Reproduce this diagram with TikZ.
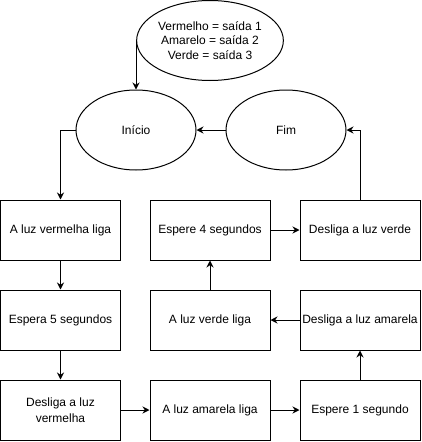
\documentclass[tikz,border=0pt]{standalone}
\usepackage{fontspec}
\setmainfont{Liberation Sans}
\usetikzlibrary{shapes.geometric,arrows.meta}

\tikzset{
  caixa/.style={draw, minimum width=120pt, minimum height=60pt, inner sep=0pt, align=center, font=\fontsize{12}{16.5}\selectfont},
  elipse/.style={draw, ellipse, minimum width=120pt, minimum height=80pt, inner sep=0pt, align=center, font=\fontsize{12}{14.5}\selectfont},
  seta/.style={-{Stealth[length=7pt,width=7pt]}}
}

\begin{document}
\begin{tikzpicture}[x=1pt,y=-1pt,line width=1pt]
\useasboundingbox (0,0) rectangle (422,442);

%legenda
\node[elipse] (legenda) at (210,40.5) {Vermelho = saída 1\\Amarelo = saída 2\\Verde = saída 3};

%inicio e fim
\node[elipse] (inicio) at (136,130) {Início};
\node[elipse] (fim) at (286,130) {Fim};

%passos
\node[caixa] (vermelhaliga) at (60.5,230) {A luz vermelha liga};
\node[caixa] (espera5) at (60.5,320) {Espera 5 segundos};
\node[caixa] (desligavermelha) at (60.5,410) {Desliga a luz\\vermelha};
\node[caixa] (amarelaliga) at (210,410) {A luz amarela liga};
\node[caixa] (espere1) at (360,410) {Espere 1 segundo};
\node[caixa] (desligaamarela) at (360,320) {Desliga a luz amarela};
\node[caixa] (verdeliga) at (210,320) {A luz verde liga};
\node[caixa] (espere4) at (210,230) {Espere 4 segundos};
\node[caixa] (desligaverde) at (360,230) {Desliga a luz verde};

% conexoes
\draw[seta] (legenda.west) -| (inicio.north);
\draw[seta] (inicio.west) -| (vermelhaliga.north);
\draw[seta] (vermelhaliga) -- (espera5);
\draw[seta] (espera5) -- (desligavermelha);
\draw[seta] (desligavermelha) -- (amarelaliga);
\draw[seta] (amarelaliga) -- (espere1);
\draw[seta] (espere1) -- (desligaamarela);
\draw[seta] (desligaamarela) -- (verdeliga);
\draw[seta] (verdeliga) -- (espere4);
\draw[seta] (espere4) -- (desligaverde);
\draw[seta] (desligaverde.north) |- (fim.east);
\draw[seta] (fim) -- (inicio);

\end{tikzpicture}
\end{document}
